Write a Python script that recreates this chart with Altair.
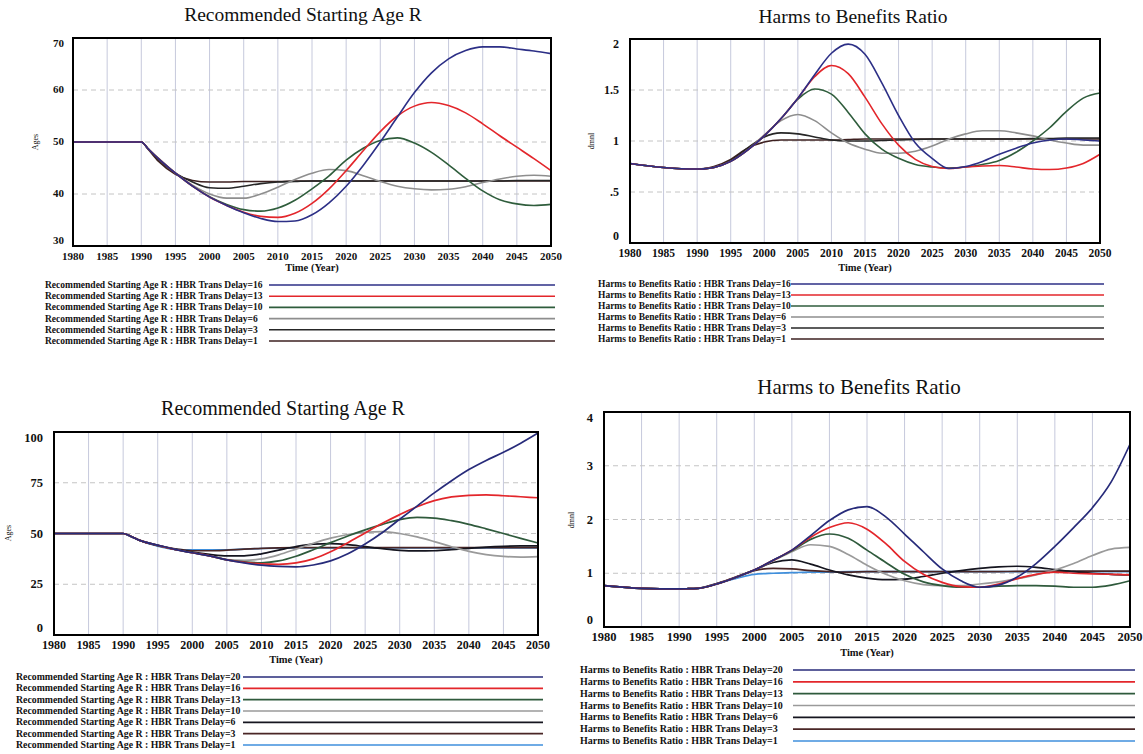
import altair as alt
import pandas as pd

W, H = 1143, 754
FONT = "Liberation Serif"

YEARS = [1980, 1985, 1990, 1991, 1992.5, 1995, 1997.5, 2000, 2002.5, 2005, 2007.5, 2010,
         2012.5, 2015, 2017.5, 2020, 2022.5, 2025, 2027.5, 2030, 2032.5, 2035,
         2037.5, 2040, 2042.5, 2045, 2047.5, 2050]
X_TICKS = [1980, 1985, 1990, 1995, 2000, 2005, 2010, 2015, 2020, 2025, 2030, 2035, 2040, 2045, 2050]

# ---------------- top-left: Recommended Starting Age R (delays 16,13,10,6,3,1)
AGE_A_NAMES = [
    "Recommended Starting Age R : HBR Trans Delay=16",
    "Recommended Starting Age R : HBR Trans Delay=13",
    "Recommended Starting Age R : HBR Trans Delay=10",
    "Recommended Starting Age R : HBR Trans Delay=6",
    "Recommended Starting Age R : HBR Trans Delay=3",
    "Recommended Starting Age R : HBR Trans Delay=1",
]
AGE_A_TICKS = [30, 40, 50, 60, 70]
AGE_A_LABELS = ["30", "40", "50", "60", "70"]
AGE_A_16 = [50, 50, 50, 48.7, 46.8, 44.0, 41.5, 39.4, 37.8, 36.4, 35.3, 34.7, 34.8, 36.0, 38.3, 41.5, 45.5, 50.0, 54.8, 59.5, 63.3, 66.0, 67.6, 68.3, 68.3, 67.9, 67.5, 67.0]
AGE_A_13 = [50, 50, 50, 48.7, 46.8, 44.0, 41.5, 39.4, 37.8, 36.5, 35.7, 35.5, 36.3, 38.2, 41.0, 44.5, 48.3, 52.0, 55.0, 56.9, 57.6, 57.0, 55.6, 53.5, 51.2, 49.0, 46.8, 44.5]
AGE_A_10 = [50, 50, 50, 48.7, 46.8, 44.0, 41.5, 39.5, 38.0, 37.0, 36.7, 37.3, 38.8, 41.0, 43.5, 46.5, 48.8, 50.3, 50.8, 49.8, 48.0, 45.6, 43.0, 40.6, 38.9, 38.1, 37.8, 38.0]
AGE_A_6 = [50, 50, 50, 48.7, 46.9, 44.0, 41.7, 40.0, 39.2, 39.2, 40.0, 41.3, 42.8, 44.0, 44.7, 44.5, 43.5, 42.4, 41.5, 41.0, 40.8, 40.9, 41.4, 42.2, 42.9, 43.4, 43.6, 43.4]
AGE_A_3 = [50, 50, 50, 48.7, 46.6, 44.0, 42.3, 41.2, 41.1, 41.5, 42.0, 42.3, 42.4, 42.5, 42.5, 42.5, 42.5, 42.5, 42.5, 42.5, 42.5, 42.5, 42.5, 42.5, 42.5, 42.6, 42.6, 42.6]
AGE_A_1 = [50, 50, 50, 48.6, 46.3, 43.8, 42.6, 42.3, 42.3, 42.4, 42.4, 42.4, 42.5, 42.5, 42.5, 42.5, 42.5, 42.5, 42.5, 42.5, 42.5, 42.5, 42.5, 42.5, 42.5, 42.5, 42.5, 42.5]

# ---------------- top-right: Harms to Benefits Ratio (delays 16,13,10,6,3,1)
HBR_A_NAMES = [
    "Harms to Benefits Ratio : HBR Trans Delay=16",
    "Harms to Benefits Ratio : HBR Trans Delay=13",
    "Harms to Benefits Ratio : HBR Trans Delay=10",
    "Harms to Benefits Ratio : HBR Trans Delay=6",
    "Harms to Benefits Ratio : HBR Trans Delay=3",
    "Harms to Benefits Ratio : HBR Trans Delay=1",
]
HBR_A_TICKS = [0, 0.5, 1, 1.5, 2]
HBR_A_LABELS = ["0", ".5", "1", "1.5", "2"]
HBR_A_16 = [0.78, 0.74, 0.725, 0.727, 0.74, 0.80, 0.91, 1.05, 1.22, 1.42, 1.65, 1.86, 1.95, 1.85, 1.57, 1.25, 0.98, 0.83, 0.73, 0.75, 0.80, 0.87, 0.93, 0.98, 1.01, 1.02, 1.01, 1.00]
HBR_A_13 = [0.78, 0.74, 0.725, 0.727, 0.74, 0.80, 0.91, 1.05, 1.22, 1.42, 1.63, 1.74, 1.66, 1.43, 1.17, 0.96, 0.82, 0.75, 0.73, 0.745, 0.755, 0.76, 0.745, 0.725, 0.72, 0.735, 0.78, 0.87]
HBR_A_10 = [0.78, 0.74, 0.725, 0.727, 0.74, 0.80, 0.91, 1.05, 1.22, 1.41, 1.51, 1.46, 1.28, 1.07, 0.92, 0.83, 0.77, 0.745, 0.735, 0.745, 0.77, 0.81, 0.89, 1.00, 1.13, 1.29, 1.42, 1.47]
HBR_A_6 = [0.78, 0.74, 0.725, 0.727, 0.74, 0.80, 0.91, 1.06, 1.20, 1.26, 1.20, 1.08, 0.98, 0.92, 0.88, 0.88, 0.90, 0.95, 1.02, 1.07, 1.10, 1.10, 1.08, 1.05, 1.01, 0.98, 0.96, 0.96]
HBR_A_3 = [0.78, 0.74, 0.725, 0.727, 0.74, 0.81, 0.93, 1.04, 1.08, 1.07, 1.04, 1.01, 1.00, 1.00, 1.005, 1.01, 1.015, 1.02, 1.02, 1.02, 1.02, 1.02, 1.02, 1.025, 1.025, 1.03, 1.03, 1.03]
HBR_A_1 = [0.78, 0.74, 0.725, 0.73, 0.75, 0.82, 0.93, 0.99, 1.01, 1.01, 1.01, 1.01, 1.015, 1.02, 1.02, 1.02, 1.02, 1.02, 1.02, 1.02, 1.02, 1.02, 1.02, 1.02, 1.02, 1.02, 1.02, 1.02]

# ---------------- bottom-left: Recommended Starting Age R (delays 20,16,13,10,6,3,1)
AGE_B_NAMES = [
    "Recommended Starting Age R : HBR Trans Delay=20",
    "Recommended Starting Age R : HBR Trans Delay=16",
    "Recommended Starting Age R : HBR Trans Delay=13",
    "Recommended Starting Age R : HBR Trans Delay=10",
    "Recommended Starting Age R : HBR Trans Delay=6",
    "Recommended Starting Age R : HBR Trans Delay=3",
    "Recommended Starting Age R : HBR Trans Delay=1",
]
AGE_B_TICKS = [0, 25, 50, 75, 100]
AGE_B_LABELS = ["0", "25", "50", "75", "100"]
AGE_B_20 = [50, 50, 50, 48.8, 46.5, 44.3, 42.2, 40.5, 39.0, 37.0, 35.5, 34.4, 33.8, 33.6, 34.5, 36.5, 40.0, 44.8, 50.5, 57.0, 63.5, 70.0, 76.0, 81.5, 86.0, 90.0, 94.5, 99.5]
AGE_B_16 = [50, 50, 50, 48.8, 46.5, 44.2, 42.1, 40.5, 39.0, 37.0, 35.8, 35.0, 34.8, 35.5, 37.5, 41.0, 45.5, 50.3, 55.0, 59.3, 63.2, 66.2, 68.0, 68.8, 69.0, 68.6, 68.1, 67.6]
AGE_B_13 = [50, 50, 50, 48.8, 46.5, 44.2, 42.1, 40.5, 39.0, 37.0, 36.0, 35.6, 36.5, 38.8, 42.0, 45.5, 48.8, 51.8, 54.5, 56.8, 57.9, 57.6, 56.3, 54.5, 52.3, 50.0, 47.6, 45.3]
AGE_B_10 = [50, 50, 50, 48.8, 46.5, 44.2, 42.1, 40.5, 39.0, 37.2, 36.8, 37.5, 39.5, 42.3, 45.2, 47.7, 49.5, 50.6, 50.9, 50.0, 48.3, 46.0, 43.5, 41.2, 39.6, 38.7, 38.4, 38.6]
AGE_B_6 = [50, 50, 50, 48.8, 46.5, 44.2, 42.2, 40.8, 39.7, 39.0, 39.0, 40.0, 41.8, 43.6, 44.8, 45.0, 44.5, 43.5, 42.5, 41.7, 41.4, 41.5, 42.0, 42.7, 43.3, 43.7, 43.9, 43.9]
AGE_B_3 = [50, 50, 50, 48.8, 46.5, 44.0, 42.5, 41.5, 41.5, 41.8, 42.3, 42.7, 42.9, 43.0, 43.0, 43.0, 43.0, 43.0, 43.0, 43.0, 43.0, 43.0, 43.0, 43.0, 43.0, 43.0, 43.0, 43.0]
AGE_B_1 = [50, 50, 50, 48.7, 46.4, 43.8, 42.2, 41.9, 41.9, 42.0, 42.3, 42.6, 42.8, 42.9, 42.9, 42.9, 42.9, 42.9, 42.9, 42.9, 42.9, 42.9, 42.9, 42.9, 42.9, 42.9, 42.9, 42.9]

# ---------------- bottom-right: Harms to Benefits Ratio (delays 20,16,13,10,6,3,1)
HBR_B_NAMES = [
    "Harms to Benefits Ratio : HBR Trans Delay=20",
    "Harms to Benefits Ratio : HBR Trans Delay=16",
    "Harms to Benefits Ratio : HBR Trans Delay=13",
    "Harms to Benefits Ratio : HBR Trans Delay=10",
    "Harms to Benefits Ratio : HBR Trans Delay=6",
    "Harms to Benefits Ratio : HBR Trans Delay=3",
    "Harms to Benefits Ratio : HBR Trans Delay=1",
]
HBR_B_TICKS = [0, 1, 2, 3, 4]
HBR_B_LABELS = ["0", "1", "2", "3", "4"]
HBR_B_20 = [0.77, 0.72, 0.71, 0.712, 0.72, 0.80, 0.92, 1.06, 1.24, 1.43, 1.70, 1.98, 2.18, 2.24, 2.05, 1.73, 1.40, 1.08, 0.86, 0.74, 0.78, 0.93, 1.18, 1.50, 1.85, 2.22, 2.70, 3.40]
HBR_B_16 = [0.77, 0.72, 0.71, 0.712, 0.72, 0.80, 0.92, 1.06, 1.24, 1.43, 1.67, 1.85, 1.94, 1.82, 1.55, 1.22, 0.98, 0.83, 0.75, 0.74, 0.80, 0.90, 0.98, 1.02, 1.00, 0.99, 0.98, 0.97]
HBR_B_13 = [0.77, 0.72, 0.71, 0.712, 0.72, 0.80, 0.92, 1.06, 1.24, 1.42, 1.63, 1.73, 1.65, 1.43, 1.20, 0.98, 0.84, 0.77, 0.74, 0.74, 0.76, 0.77, 0.77, 0.76, 0.74, 0.74, 0.78, 0.86]
HBR_B_10 = [0.77, 0.72, 0.71, 0.712, 0.72, 0.80, 0.92, 1.06, 1.23, 1.40, 1.53, 1.50, 1.35, 1.15, 0.98, 0.86, 0.79, 0.77, 0.77, 0.80, 0.84, 0.90, 0.97, 1.06, 1.18, 1.33, 1.45, 1.48]
HBR_B_6 = [0.77, 0.72, 0.71, 0.712, 0.72, 0.80, 0.92, 1.06, 1.20, 1.25, 1.17, 1.06, 0.97, 0.91, 0.88, 0.89, 0.94, 1.00, 1.05, 1.09, 1.12, 1.13, 1.11, 1.07, 1.03, 1.00, 0.98, 0.97]
HBR_B_3 = [0.77, 0.72, 0.71, 0.712, 0.72, 0.81, 0.93, 1.05, 1.09, 1.08, 1.05, 1.03, 1.02, 1.03, 1.03, 1.03, 1.03, 1.03, 1.03, 1.03, 1.03, 1.035, 1.035, 1.04, 1.04, 1.04, 1.04, 1.04]
HBR_B_1 = [0.77, 0.72, 0.71, 0.712, 0.72, 0.81, 0.90, 0.98, 1.00, 1.01, 1.02, 1.02, 1.03, 1.03, 1.03, 1.03, 1.03, 1.03, 1.03, 1.03, 1.03, 1.03, 1.03, 1.03, 1.03, 1.03, 1.03, 1.03]

# styles
TOP_COLORS = ["#2c2f86", "#e3262b", "#2f5d3c", "#8e8e8e", "#262626", "#3d2020"]
TOP_WIDTHS = [1.6, 1.6, 1.8, 1.3, 2.2, 1.8]
BOT_COLORS = ["#272b7a", "#e3262b", "#2f5a3c", "#9a9a9a", "#15151f", "#4a2626", "#3f8fdc"]
BOT_WIDTHS = [1.7, 1.7, 1.8, 1.3, 2.0, 1.8, 1.5]
INK = "#111111"

ONE = pd.DataFrame({"k": [0]})


def long_table(names, series):
    rows = []
    for name, vals in reversed(list(zip(names, series))):
        for yr, v in zip(YEARS, vals):
            rows.append({"year": yr, "value": v, "series": name})
    return pd.DataFrame(rows)


def panel(p):
    sx = alt.Scale(domain=[1980, 2050], range=[p["x0"], p["x1"]], nice=False, zero=False)
    sy = alt.Scale(domain=[p["ymin"], p["ymax"]], range=[p["ybot"], p["ytop"]], nice=False, zero=False)
    cs = alt.Scale(domain=p["names"], range=p["colors"])
    ws = alt.Scale(domain=p["names"], range=p["widths"])
    ymid = (p["ymin"] + p["ymax"]) / 2
    ymid_px = (p["ybot"] + p["ytop"]) / 2

    vgrid = alt.Chart(pd.DataFrame({"t": X_TICKS})).mark_rule(color="#c6c9dc", strokeWidth=1).encode(
        x=alt.X("t:Q", scale=sx, axis=None),
        y=alt.YDatum(p["ymin"], scale=sy, axis=None),
        y2=alt.Y2Datum(p["ymax"]),
    )
    hgrid = alt.Chart(pd.DataFrame({"v": p["yticks"]})).mark_rule(
        color="#c4c4c4", strokeWidth=1, strokeDash=[5, 4]).encode(
        y=alt.Y("v:Q", scale=sy, axis=None),
        x=alt.XDatum(1980, scale=sx, axis=None),
        x2=alt.X2Datum(2050),
    )
    lines = alt.Chart(long_table(p["names"], p["series"])).mark_line(interpolate="monotone").encode(
        x=alt.X("year:Q", scale=sx, axis=None),
        y=alt.Y("value:Q", scale=sy, axis=None),
        color=alt.Color("series:N", scale=cs, legend=None),
        strokeWidth=alt.StrokeWidth("series:N", scale=ws, legend=None),
    )
    frame = alt.Chart(ONE).mark_rect(fillOpacity=0, stroke="#000000", strokeWidth=2).encode(
        x=alt.XDatum(1980, scale=sx, axis=None),
        x2=alt.X2Datum(2050),
        y=alt.YDatum(p["ymin"], scale=sy, axis=None),
        y2=alt.Y2Datum(p["ymax"]),
    )
    # x tick labels (through the x scale)
    xlab = alt.Chart(pd.DataFrame({"t": X_TICKS})).mark_text(
        font=FONT, fontSize=p["xlabsize"], fontWeight="bold", color=INK,
        align="center", baseline="top", dy=p["xlabpad"]).encode(
        x=alt.X("t:Q", scale=sx, axis=None),
        y=alt.YDatum(p["ymin"], scale=sy, axis=None),
        text=alt.Text("t:Q", format="d"),
    )
    # y tick labels (through the y scale); end labels kept inside the frame like the original
    ydf = pd.DataFrame({"v": p["yticks"], "lab": p["ylabels"]})
    ylab_common = dict(font=FONT, fontSize=p["ylabsize"], fontWeight="bold", color=INK,
                       align="right", dx=-p["ylabpad"])
    ylab_enc = dict(
        y=alt.Y("v:Q", scale=sy, axis=None),
        x=alt.XDatum(1980, scale=sx, axis=None),
        text="lab:N",
    )
    ylab_mid = alt.Chart(ydf).transform_filter(
        (alt.datum.v > p["ymin"]) & (alt.datum.v < p["ymax"])
    ).mark_text(baseline="middle", **ylab_common).encode(**ylab_enc)
    ylab_lo = alt.Chart(ydf).transform_filter(alt.datum.v == p["ymin"]).mark_text(
        baseline="bottom", **ylab_common).encode(**ylab_enc)
    ylab_hi = alt.Chart(ydf).transform_filter(alt.datum.v == p["ymax"]).mark_text(
        baseline="top", **ylab_common).encode(**ylab_enc)
    xtitle = alt.Chart(ONE).mark_text(
        text="Time (Year)", font=FONT, fontSize=10.5, fontWeight="bold", color=INK,
        align="center", baseline="middle", dy=p["xtitle_y"] - p["ybot"]).encode(
        x=alt.XDatum(2015, scale=sx, axis=None),
        y=alt.YDatum(p["ymin"], scale=sy, axis=None),
    )
    # rotated 270 deg: text-frame dx runs up the screen, dy runs to the right
    ytitle = alt.Chart(ONE).mark_text(
        text=p["ytitle"], font=FONT, fontSize=8, color=INK, angle=270,
        align="center", baseline="middle",
        dx=-(p["ytitle_y"] - ymid_px), dy=p["ytitle_x"] - p["x0"]).encode(
        x=alt.XDatum(1980, scale=sx, axis=None),
        y=alt.YDatum(ymid, scale=sy, axis=None),
    )
    title = alt.Chart(ONE).mark_text(
        text=p["title"], font=FONT, fontSize=p["title_size"], color=INK,
        align="center", baseline="middle").encode(
        x=alt.value(p["title_x"]), y=alt.value(p["title_y"]))

    # legend block
    ldf = pd.DataFrame({"label": p["names"]})
    ly = alt.Y("label:N", scale=alt.Scale(type="point", domain=p["names"],
                                          range=[p["ly0"], p["ly1"]], padding=0), axis=None)
    ltext = alt.Chart(ldf).mark_text(
        align="left", baseline="middle", font=FONT, fontSize=p["lfont"],
        fontWeight="bold", color=INK).encode(
        x=alt.value(p["tx"]), y=ly, text="label:N")
    lrule = alt.Chart(ldf).mark_rule().encode(
        x=alt.value(p["lx0"]), x2=alt.value(p["lx1"]), y=ly,
        color=alt.Color("label:N", scale=cs, legend=None),
        strokeWidth=alt.StrokeWidth("label:N", scale=ws, legend=None),
    )
    plot = alt.layer(vgrid, hgrid, lines, frame, xlab, ylab_mid, ylab_lo, ylab_hi, xtitle, ytitle, title)
    return plot, alt.layer(ltext, lrule)


PANELS = [
    dict(names=AGE_A_NAMES, series=[AGE_A_16, AGE_A_13, AGE_A_10, AGE_A_6, AGE_A_3, AGE_A_1],
         colors=TOP_COLORS, widths=TOP_WIDTHS,
         x0=73, x1=551, ytop=38, ybot=246, ymin=30, ymax=70, yticks=AGE_A_TICKS, ylabels=AGE_A_LABELS,
         ytitle="Ages", ytitle_x=36, ytitle_y=142, xtitle_y=268,
         xlabpad=5, xlabsize=11, ylabpad=9, ylabsize=11,
         title="Recommended Starting Age R", title_x=303, title_y=15, title_size=19.5,
         ly0=285, ly1=341, tx=45, lx0=269, lx1=555, lfont=9.5),
    dict(names=HBR_A_NAMES, series=[HBR_A_16, HBR_A_13, HBR_A_10, HBR_A_6, HBR_A_3, HBR_A_1],
         colors=TOP_COLORS, widths=TOP_WIDTHS,
         x0=630, x1=1100, ytop=39, ybot=243, ymin=0, ymax=2, yticks=HBR_A_TICKS, ylabels=HBR_A_LABELS,
         ytitle="dmnl", ytitle_x=592, ytitle_y=141, xtitle_y=268,
         xlabpad=5, xlabsize=11.5, ylabpad=11, ylabsize=12,
         title="Harms to Benefits Ratio", title_x=853, title_y=17, title_size=19.5,
         ly0=284, ly1=339, tx=598, lx0=791, lx1=1104, lfont=9.5),
    dict(names=AGE_B_NAMES, series=[AGE_B_20, AGE_B_16, AGE_B_13, AGE_B_10, AGE_B_6, AGE_B_3, AGE_B_1],
         colors=BOT_COLORS, widths=BOT_WIDTHS,
         x0=54, x1=538, ytop=432, ybot=635, ymin=0, ymax=100, yticks=AGE_B_TICKS, ylabels=AGE_B_LABELS,
         ytitle="Ages", ytitle_x=9, ytitle_y=533, xtitle_y=660,
         xlabpad=5, xlabsize=12, ylabpad=11, ylabsize=12.5,
         title="Recommended Starting Age R", title_x=283, title_y=409, title_size=20,
         ly0=677, ly1=745, tx=16, lx0=243, lx1=543, lfont=9.8),
    dict(names=HBR_B_NAMES, series=[HBR_B_20, HBR_B_16, HBR_B_13, HBR_B_10, HBR_B_6, HBR_B_3, HBR_B_1],
         colors=BOT_COLORS, widths=BOT_WIDTHS,
         x0=604, x1=1130, ytop=412, ybot=627, ymin=0, ymax=4, yticks=HBR_B_TICKS, ylabels=HBR_B_LABELS,
         ytitle="dmnl", ytitle_x=572, ytitle_y=520, xtitle_y=653,
         xlabpad=4, xlabsize=12.5, ylabpad=11, ylabsize=12.5,
         title="Harms to Benefits Ratio", title_x=859, title_y=388, title_size=21,
         ly0=670, ly1=741, tx=580, lx0=793, lx1=1135, lfont=10),
]

parts = []
for p in PANELS:
    plot, leg = panel(p)
    parts.extend([plot, leg])

chart = alt.layer(*parts).resolve_scale(
    x="independent", y="independent", color="independent", strokeWidth="independent"
).properties(
    width=W, height=H, autosize=alt.AutoSizeParams(type="none"), padding=0, background="white"
).configure_view(stroke="transparent")

chart.save("out.html", embed_options={"renderer": "svg", "actions": False})
